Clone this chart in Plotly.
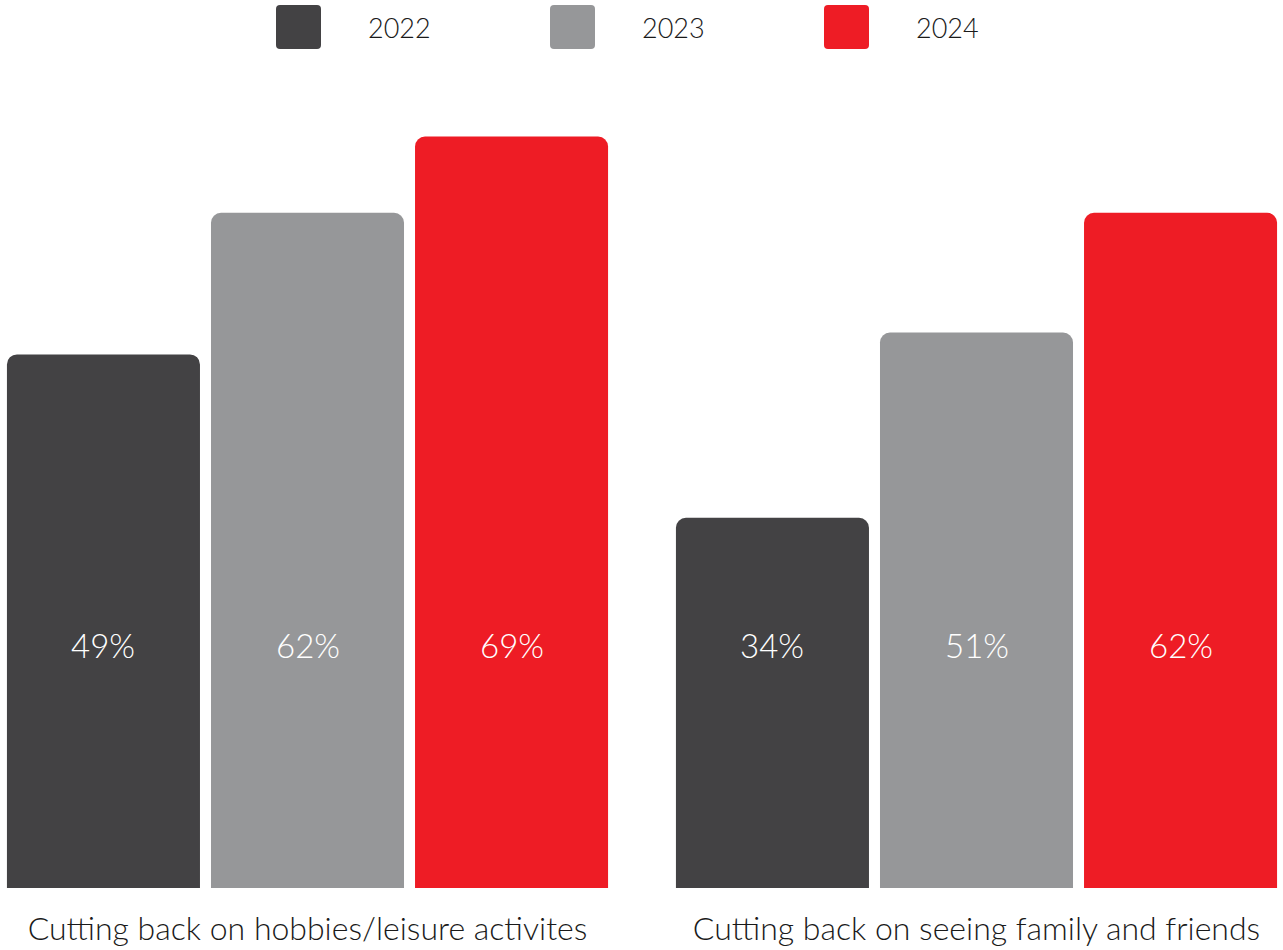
import plotly.graph_objects as go

# Survey results: share of respondents cutting back, by year
categories = ["Cutting back on hobbies/leisure activites",
              "Cutting back on seeing family and friends"]
years = ["2022", "2023", "2024"]
values = {
    "2022": [49, 34],
    "2023": [62, 51],
    "2024": [69, 62],
}
colors = {"2022": "#434244", "2023": "#969799", "2024": "#EE1C25"}

W, H = 1283, 950
M_TOP, M_BOT = 80, 62
PX_PER_UNIT = 669          # horizontal distance between category centres
FIRST_CENTER = 307.5       # pixel position of the first category centre
PX_PER_PCT = 10.89
plot_h = H - M_TOP - M_BOT

x0 = -FIRST_CENTER / PX_PER_UNIT
x1 = x0 + W / PX_PER_UNIT
slot_px = PX_PER_UNIT * (1 - 0.085) / len(years)

fig = go.Figure()
for yr in years:
    fig.add_trace(go.Bar(
        name=yr, x=categories, y=values[yr],
        marker=dict(color=colors[yr], line=dict(width=0)),
        hoverinfo="skip", showlegend=False,
    ))

# value labels, all placed at a common height inside the bars
label_y = 22.3
for j, yr in enumerate(years):
    for i, cat in enumerate(categories):
        fig.add_annotation(
            x=cat, y=label_y, xref="x", yref="y",
            text=f"{values[yr][i]}%", showarrow=False,
            xshift=(j - 1) * slot_px,
            font=dict(family="Lato", size=33, color="white", weight=300),
        )

# legend row drawn above the plot
def py_to_paper(py):
    return (H - M_BOT - py) / plot_h

leg_x = [276, 550, 824]
sw, top, bot, r = 45, 5, 49, 4
for k, yr in enumerate(years):
    L, R = leg_x[k], leg_x[k] + sw
    xs = lambda p: p / W
    path = (
        f"M {xs(L + r)},{py_to_paper(top)} L {xs(R - r)},{py_to_paper(top)} "
        f"Q {xs(R)},{py_to_paper(top)} {xs(R)},{py_to_paper(top + r)} "
        f"L {xs(R)},{py_to_paper(bot - r)} Q {xs(R)},{py_to_paper(bot)} {xs(R - r)},{py_to_paper(bot)} "
        f"L {xs(L + r)},{py_to_paper(bot)} Q {xs(L)},{py_to_paper(bot)} {xs(L)},{py_to_paper(bot - r)} "
        f"L {xs(L)},{py_to_paper(top + r)} Q {xs(L)},{py_to_paper(top)} {xs(L + r)},{py_to_paper(top)} Z"
    )
    fig.add_shape(type="path", path=path, xref="paper", yref="paper",
                  fillcolor=colors[yr], line=dict(width=0), layer="above")
    fig.add_annotation(
        x=(L + 90) / W, y=py_to_paper(27), xref="paper", yref="paper",
        xanchor="left", yanchor="middle", text=yr, showarrow=False,
        font=dict(family="Lato", size=27, color="#1a1a1a", weight=300),
    )

fig.update_layout(
    width=W, height=H,
    margin=dict(l=0, r=0, t=M_TOP, b=M_BOT, autoexpand=False),
    paper_bgcolor="white", plot_bgcolor="white",
    barmode="group", bargap=0.085, bargroupgap=0.054,
    barcornerradius=10,
    xaxis=dict(range=[x0, x1], showgrid=False, zeroline=False, showline=False,
               automargin=False, ticks="", ticklabelstandoff=19,
               tickfont=dict(family="Lato", size=32, color="#1a1a1a", weight=300)),
    yaxis=dict(range=[0, plot_h / PX_PER_PCT], visible=False, automargin=False),
)

fig.write_html("out.html")
